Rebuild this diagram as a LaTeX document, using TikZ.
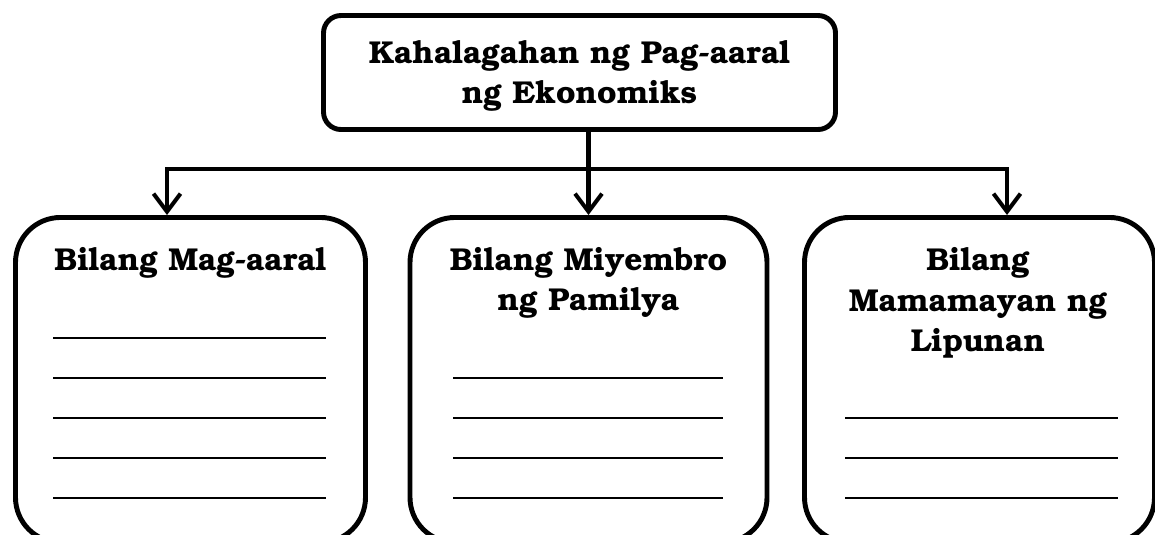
\documentclass[tikz,border=0pt]{standalone}
\usepackage[T1]{fontenc}
\usepackage{bookman}
\usetikzlibrary{arrows.meta,positioning}

\begin{document}
\begin{tikzpicture}[x=0.2mm, y=-0.2mm,
    box/.style={draw, line width=2.8pt, rounded corners=0.9cm, minimum height=6.5cm, anchor=north},
    hd/.style={font=\bfseries\fontsize{18}{23}\selectfont, align=center, inner sep=0pt},
    link/.style={line width=2.3pt},
    barb/.tip={Straight Barb[length=3.6mm,width=5.4mm]},
    blank/.style={line width=0.8pt}]

    % page frame
    \useasboundingbox (0,0) rectangle (1155,534);
    \clip (0,0) rectangle (1155,534);

    % Main topic
    \node[draw, line width=2.8pt, rounded corners=0.35cm, minimum width=10.24cm, minimum height=2.28cm] (top) at (579.5,72.5) {};
    \node[hd] (toptxt) at (579.5,76) {Kahalagahan ng Pag-aaral\\ng Ekonomiks};

    % Three boxes
    \node[box, minimum width=7cm] (mag) at (190.5,215) {};
    \node[box, minimum width=7.14cm] (pam) at (588.5,215) {};
    \node[box, minimum width=7cm] (lip) at (979.5,215) {};

    % Box titles
    \node[hd] (magtxt) at (190.5,263) {Bilang Mag-aaral};
    \node[hd] (pamtxt) at (588.5,283) {Bilang Miyembro\\ng Pamilya};
    \node[hd] (liptxt) at (978,303) {Bilang\\Mamamayan ng\\Lipunan};

    % Blanks to write on
    \foreach \y in {338,378,...,498} \draw[blank] (53,\y) -- (326,\y);
    \foreach \y in {378,418,...,498} \draw[blank] (453,\y) -- (723,\y);
    \foreach \y in {418,458,498} \draw[blank] (845,\y) -- (1118,\y);

    % Connectors
    \coordinate (jl) at (167,169);
    \coordinate (jr) at (1007,169);
    \draw[link, -barb] (top.south -| pam.north) -- (pam.north);
    \draw[link, barb-barb] (mag.north -| jl) -- (jl) -- (jr) -- (lip.north -| jr);

\end{tikzpicture}
\end{document}
